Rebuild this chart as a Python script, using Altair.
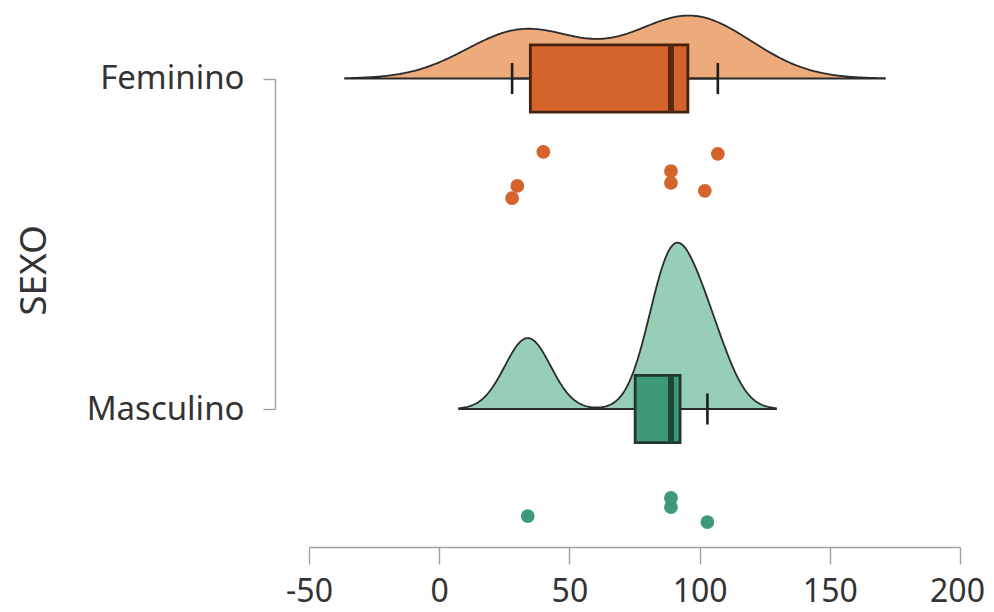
import altair as alt
import numpy as np
import pandas as pd

# ---- data ----
grupos = ["Feminino", "Masculino"]
posicao = [2, 1]
valores_fem = [40, 107, 89, 89, 30, 28, 102]
jitter_fem = [0.222, 0.228, 0.280, 0.316, 0.325, 0.362, 0.340]
valores_mas = [34, 89, 89, 103]
jitter_mas = [0.324, 0.269, 0.297, 0.342]
ticks_x = [-50, 0, 50, 100, 150, 200]

cor_densidade = ["#EDAB7C", "#97CEB6"]
cor_caixa = ["#D4622B", "#3D9A74"]
cor_mediana = ["#57290F", "#1D4636"]
cor_borda = ["#45230F", "#22372E"]
cor_ponto = ["#D4632C", "#3E9B77"]

df = pd.DataFrame({
    "SEXO": [grupos[0]] * len(valores_fem) + [grupos[1]] * len(valores_mas),
    "valor": valores_fem + valores_mas,
    "jitter": jitter_fem + jitter_mas,
})


def nrd0(x):
    x = np.asarray(x, float)
    sd = x.std(ddof=1)
    q75, q25 = np.percentile(x, [75, 25])
    return 0.9 * min(sd, (q75 - q25) / 1.34) * len(x) ** -0.2


K = 18.9        # density -> y units
H_BOX = 0.102   # half box height (y units)
H_CAP = 0.047   # half cap height

xscale = alt.Scale(domain=[-50, 200], nice=False, zero=False)
yscale = alt.Scale(domain=[1, 2], range=[399, 68.5], nice=False, zero=False)

labmap = " : ".join(f"datum.value == {p} ? '{g}'" for g, p in zip(grupos, posicao)) + " : ''"

xaxis = alt.Axis(values=ticks_x, title=None, grid=False, tickSize=17, tickWidth=1.4,
                 tickColor="#a0a0a0", domainColor="#a0a0a0", domainWidth=1.4,
                 labelFont="Noto Sans", labelFontSize=32, labelColor="#333333",
                 labelPadding=12, labelFlush=False, labelOverlap=False,
                 labelOffset={"condition": {"test": f"datum.value == {ticks_x[-1]}", "value": -3},
                              "value": 0},
                 labelExpr="datum.value + ''")
yaxis = alt.Axis(values=posicao, title="SEXO", grid=False, tickSize=12, tickWidth=1.4,
                 tickColor="#a0a0a0", domainColor="#a0a0a0", domainWidth=1.4,
                 labelFont="Noto Sans", labelFontSize=33, labelColor="#333333",
                 labelPadding=19, labelOverlap=False, labelExpr=labmap, offset=34,
                 titleFont="Noto Sans", titleFontSize=37, titleFontWeight="normal",
                 titleColor="#333333", titleAngle=270, titleX=-241, titleY=260,
                 titleAlign="center", titleBaseline="middle")

densidades = []
resto = []
for i, g in enumerate(grupos):
    p = posicao[i]
    vals = valores_fem if i == 0 else valores_mas
    bw = nrd0(vals)
    lo, hi = min(vals) - 3 * bw, max(vals) + 3 * bw
    base = alt.Chart(df).transform_filter(alt.datum.SEXO == g)

    dens = base.transform_density(
        "valor", as_=["valor", "densidade"], bandwidth=bw, extent=[lo, hi], steps=300
    ).transform_calculate(
        base=f"{p}", topo=f"{p} + datum.densidade * {K}"
    ).mark_area(fill=cor_densidade[i], stroke="#2b2b2b", strokeWidth=1.8).encode(
        x=alt.X("valor:Q", scale=xscale, axis=xaxis),
        y=alt.Y("topo:Q", scale=yscale, axis=yaxis),
        y2="base:Q",
    )
    densidades.append(dens)

    wh = base.transform_joinaggregate(
        q1="q1(valor)", q3="q3(valor)"
    ).transform_calculate(
        li="datum.q1 - 1.5 * (datum.q3 - datum.q1)",
        ls="datum.q3 + 1.5 * (datum.q3 - datum.q1)",
    ).transform_filter(
        "datum.valor >= datum.li && datum.valor <= datum.ls"
    ).transform_aggregate(
        wmin="min(valor)", wmax="max(valor)", q1="min(q1)", q3="min(q3)"
    ).transform_calculate(
        pos=f"{p}", cb=f"{p} - {H_CAP}", ct=f"{p} + {H_CAP}"
    )
    for a, b in (("wmin", "q1"), ("q3", "wmax")):
        resto.append(wh.mark_rule(color="#2b2b2b", strokeWidth=2).encode(
            x=alt.X(f"{a}:Q", scale=xscale, axis=xaxis), x2=f"{b}:Q",
            y=alt.Y("pos:Q", scale=yscale, axis=yaxis)))
    for a in ("wmin", "wmax"):
        resto.append(wh.mark_rule(color="#1e1e1e", strokeWidth=2.6).encode(
            x=alt.X(f"{a}:Q", scale=xscale, axis=xaxis),
            y=alt.Y("cb:Q", scale=yscale, axis=yaxis), y2="ct:Q"))

    caixa = base.transform_aggregate(
        q1="q1(valor)", med="median(valor)", q3="q3(valor)"
    ).transform_calculate(
        topo=f"{p} + {H_BOX}", base=f"{p} - {H_BOX}"
    )
    resto.append(caixa.mark_rect(fill=cor_caixa[i], stroke=cor_borda[i], strokeWidth=2.8).encode(
        x=alt.X("q1:Q", scale=xscale, axis=xaxis), x2="q3:Q",
        y=alt.Y("topo:Q", scale=yscale, axis=yaxis), y2="base:Q"))
    resto.append(caixa.mark_rule(color=cor_mediana[i], strokeWidth=6).encode(
        x=alt.X("med:Q", scale=xscale, axis=xaxis),
        y=alt.Y("topo:Q", scale=yscale, axis=yaxis), y2="base:Q"))

    resto.append(base.transform_calculate(yp=f"{p} - datum.jitter").mark_circle(
        size=190, opacity=1, color=cor_ponto[i]).encode(
        x=alt.X("valor:Q", scale=xscale, axis=xaxis),
        y=alt.Y("yp:Q", scale=yscale, axis=yaxis)))

chart = alt.layer(*densidades, *resto).properties(
    width=651, height=537,
    padding={"left": 301, "top": 2, "right": 26, "bottom": 64},
    autosize=alt.AutoSizeParams(type="none"),
    background="white",
).configure_view(stroke=None)

chart.save("out.html", embed_options={"renderer": "svg", "actions": False})
